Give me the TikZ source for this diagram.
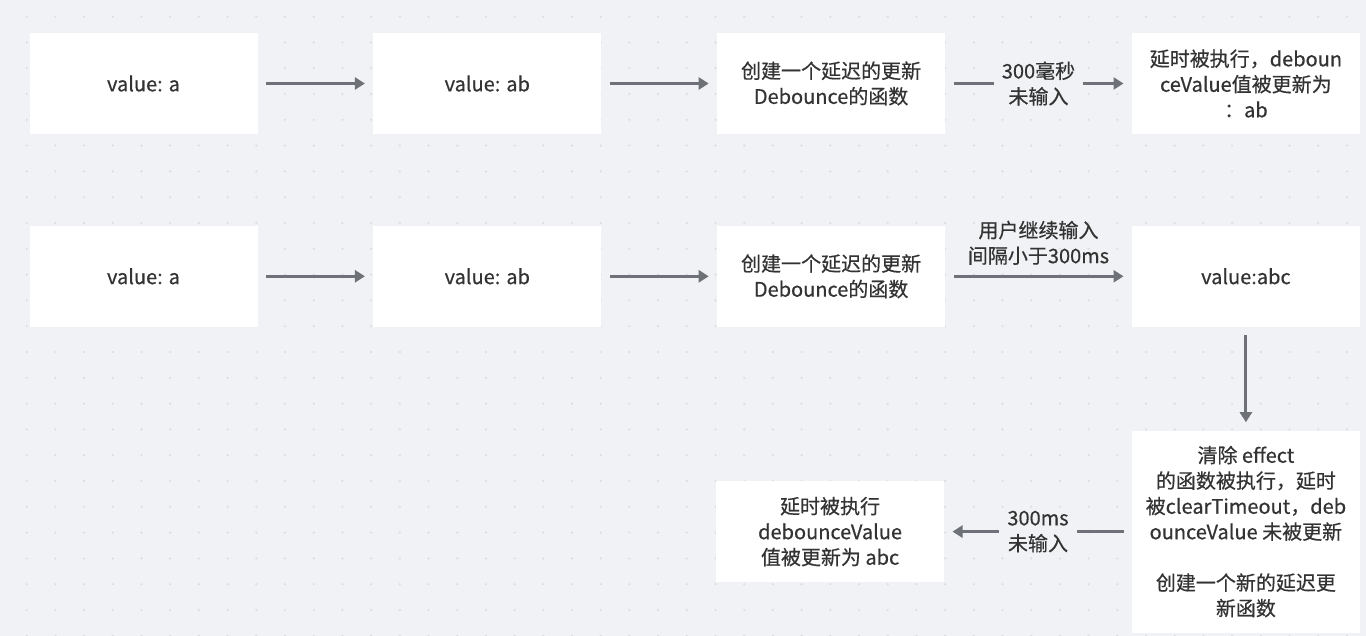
\documentclass[tikz,border=0pt]{standalone}
\usepackage{fontspec}
\setmainfont{Noto Sans CJK SC}[FakeBold=0.5]
\usetikzlibrary{arrows.meta}
\usetikzlibrary{positioning}
\definecolor{bgcol}{HTML}{F0F2F5}
\definecolor{dotcol}{HTML}{DADDE2}
\definecolor{arrcol}{HTML}{6E7278}
\definecolor{txtcol}{HTML}{333333}
\begin{document}
\begin{tikzpicture}[x=0.5pt,y=-0.5pt,
  box/.style={fill=white,text=txtcol,minimum width=114pt,minimum height=50.5pt,align=center,inner sep=0pt,font=\fontsize{10}{12.75}\selectfont},
  arr/.style={draw=arrcol,line width=1.5pt,-{Triangle[length=5pt,width=6pt]},shorten >=4pt,shorten <=4pt},
  lbl/.style={text=txtcol,align=center,fill=bgcol,inner xsep=4pt,inner ysep=1pt,font=\fontsize{10}{12.75}\selectfont}]
  % background and dot grid
  \fill[bgcol] (0,0) rectangle (1366,636);
  \useasboundingbox (0,0) rectangle (1366,636);
  \foreach \i in {0,...,47}
    \foreach \j in {0,...,24}
      \fill[dotcol] (26.7+28.7*\i,16.6+25.8*\j) circle (0.6pt);
  % first row
  \node[box] (va1) at (143.5,83.5) {value: a};
  \node[box,right=57.5pt of va1] (vab1) {value: ab};
  \node[box,right=57.5pt of vab1] (deb1) {创建一个延迟的更新\\Debounce的函数};
  \node[box,right=93pt of deb1] (upd1) {延时被执行，deboun\\ceValue值被更新为\\：ab};
  % second row
  \node[box,below=45.5pt of va1] (va2) {value: a};
  \node[box,right=57.5pt of va2] (vab2) {value: ab};
  \node[box,right=57.5pt of vab2] (deb2) {创建一个延迟的更新\\Debounce的函数};
  \node[box,right=93pt of deb2] (abc) {value:abc};
  % third row
  \node[box,below=51.5pt of abc,minimum height=101pt] (clr) {清除 effect\\的函数被执行，延时\\被clearTimeout，deb\\ounceValue 未被更新\\[12.75pt]创建一个新的延迟更\\新函数};
  \node[box,left=93.5pt of clr] (upd2) {延时被执行\\debounceValue\\值被更新为 abc};
  \draw[arr](va1)--(vab1);
  \draw[arr](vab1)--(deb1);
  \draw[arr](deb1)-- node[lbl]{300毫秒\\未输入} (upd1);
  \draw[arr](va2)--(vab2);
  \draw[arr](vab2)--(deb2);
  \draw[arr](deb2)-- node[lbl,fill=none,above=4pt]{用户继续输入\\间隔小于300ms} (abc);
  \draw[arr](abc)--(clr);
  \draw[arr](clr)-- node[lbl]{300ms\\未输入} (upd2);
\end{tikzpicture}
\end{document}
